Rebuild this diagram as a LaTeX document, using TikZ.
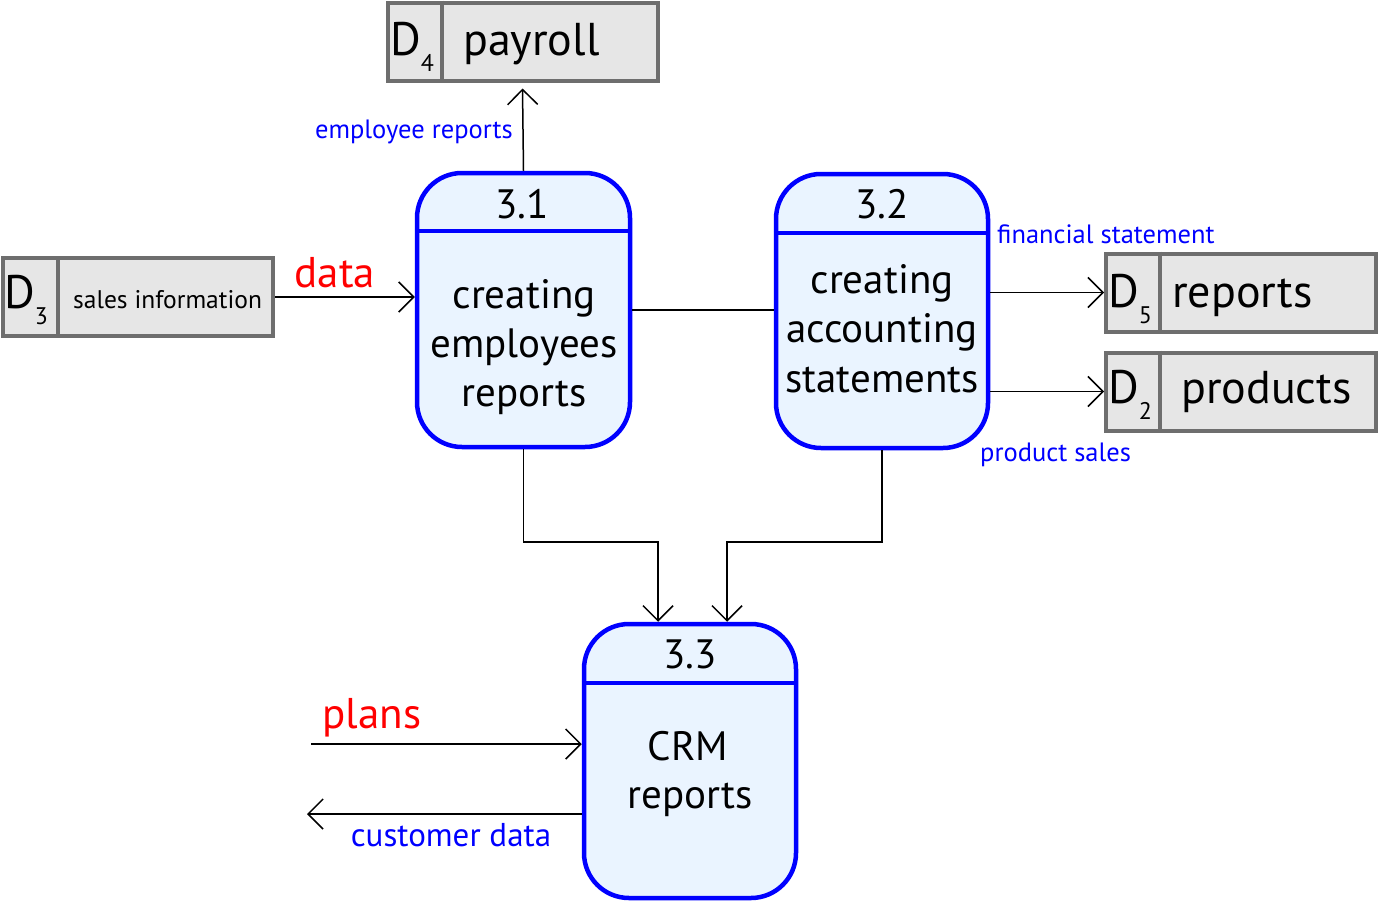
\documentclass[tikz,border=0pt]{standalone}
\usepackage{fontspec}
\setmainfont{PT Sans}
\usetikzlibrary{arrows.meta}
\definecolor{procfill}{HTML}{EAF4FF}
\definecolor{storefill}{HTML}{E6E6E6}
\definecolor{storeline}{HTML}{6E6E6E}
\newcommand\fsz[1]{\fontsize{#1}{#1}\selectfont}
\newcommand\Dsub[1]{\fsz{47}D\raisebox{-16pt}{\fsz{24}#1}}
\begin{document}
\begin{tikzpicture}[x=1pt,y=-1pt,
  proc/.style={draw=blue, line width=4.5pt, fill=procfill, rounded corners=45pt,
    minimum width=213pt, minimum height=274pt, inner sep=0pt},
  hdr/.style={draw=blue, line width=4.5pt},
  store/.style={draw=storeline, fill=storefill, line width=4pt, inner sep=0pt,
    minimum width=270pt, minimum height=78pt},
  divider/.style={draw=storeline, line width=4pt},
  flow/.style={line width=1.5pt, -{Straight Barb[length=15pt, width=30pt]}},
  plain/.style={line width=1.5pt},
  ptxt/.style={anchor=base, inner sep=0pt, font=\fsz{41}},
  stxt/.style={anchor=base west, inner sep=0pt, font=\fsz{46}},
  blab/.style={anchor=base, inner sep=0pt, text=blue},
  rlab/.style={anchor=base, inner sep=0pt, text=red, font=\fsz{43}}
]
\useasboundingbox (0,0) rectangle (1379,902);

% data stores
\node[store] (d4) at (522.5,41.5) {};
\draw[divider] (d4.north -| 442,0) -- (d4.south -| 442,0);
\node[stxt, inner sep=0pt] (d4n) at (390,55) {\Dsub{4}};
\node[stxt] (d4t) at (463,55) {payroll};

\node[store] (d3) at (138,297) {};
\draw[divider] (d3.north -| 58,0) -- (d3.south -| 58,0);
\node[stxt] (d3n) at (4,308) {\Dsub{3}};
\node[stxt, font=\fsz{25.5}] (d3t) at (73,308) {sales information};

\node[store] (d5) at (1241,292.5) {};
\draw[divider] (d5.north -| 1160,0) -- (d5.south -| 1160,0);
\node[stxt] (d5n) at (1108,307) {\Dsub{5}};
\node[stxt] (d5t) at (1172,307) {reports};

\node[store] (d2) at (1241,391.5) {};
\draw[divider] (d2.north -| 1160,0) -- (d2.south -| 1160,0);
\node[stxt] (d2n) at (1108,403) {\Dsub{2}};
\node[stxt] (d2t) at (1181,403) {products};

% processes
\node[proc] (p1) at (523.5,310) {};
\draw[hdr] (p1.west |- 0,231) -- (p1.east |- 0,231);
\node[ptxt] (p1n) at (522,218) {3.1};
\node[ptxt] (p1a) at (524,308) {creating};
\node[ptxt] (p1b) at (524,357) {employees};
\node[ptxt] (p1c) at (524,406) {reports};

\node[proc, minimum width=212pt] (p2) at (882,311) {};
\draw[hdr] (p2.west |- 0,233) -- (p2.east |- 0,233);
\node[ptxt] (p2n) at (882,218) {3.2};
\node[ptxt] (p2a) at (882,293) {creating};
\node[ptxt] (p2b) at (882,342) {accounting};
\node[ptxt] (p2c) at (882,392) {statements};

\node[proc, minimum width=212pt] (p3) at (690,761) {};
\draw[hdr] (p3.west |- 0,683) -- (p3.east |- 0,683);
\node[ptxt] (p3n) at (690,668) {3.3};
\node[ptxt] (p3a) at (688,760) {CRM};
\node[ptxt] (p3b) at (690,808) {reports};

% connectors
\draw[flow] (p1.north) -- ([yshift=-6pt]d4.south);
\draw[flow] (d3.east) -- (d3.east -| p1.west);
\draw[plain] (p1.east) -- (p1.east -| p2.west);
\draw[flow] (p2.east |- d5.west) -- (d5.west);
\draw[flow] (p2.east |- d2.west) -- (d2.west);
\draw[flow] (p1.south) |- ([xshift=-32pt]p3.north |- 0,542) -- ([xshift=-32pt]p3.north);
\draw[flow] (p2.south) |- ([xshift=37pt]p3.north |- 0,542) -- ([xshift=37pt]p3.north);
\coordinate (plansstart) at (311,744);
\coordinate (custend) at (307,814);
\draw[flow] (plansstart) -- (plansstart -| p3.west);
\draw[flow] (p3.west |- custend) -- (custend);

% labels
\node[blab, font=\fsz{26.5}] (lemp) at (414,138) {employee reports};
\node[rlab] (ldata) at (335,287) {data};
\node[blab, font=\fsz{26.5}, anchor=base west] (lfin) at (997,243) {financial statement};
\node[blab, font=\fsz{26.5}, anchor=base west] (lprod) at (980,461) {product sales};
\node[rlab] (lplans) at (372,728) {plans};
\node[blab, font=\fsz{33}] (lcust) at (451,846) {customer data};
\end{tikzpicture}
\end{document}
